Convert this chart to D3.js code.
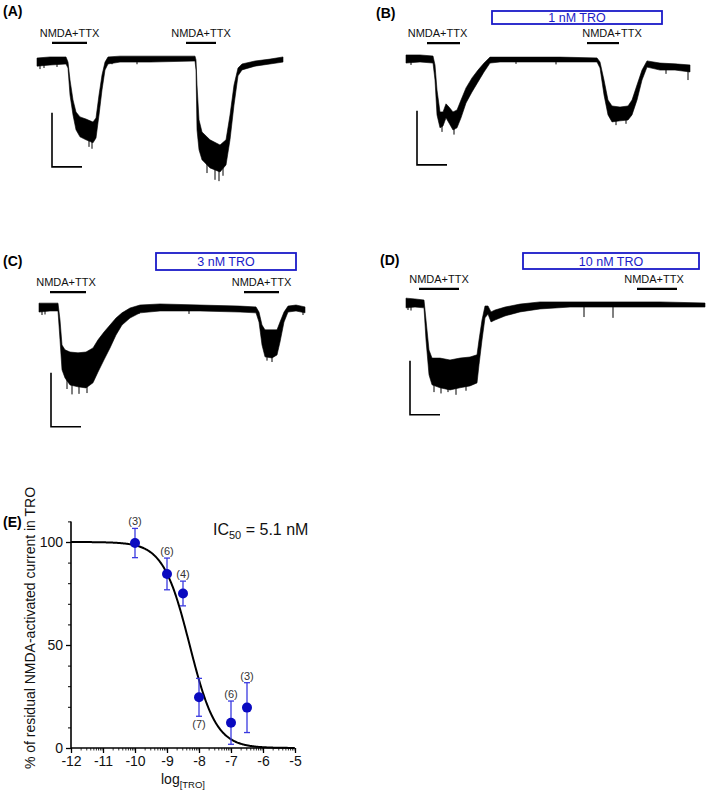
<!DOCTYPE html>
<html><head><meta charset="utf-8">
<script src="https://cdn.jsdelivr.net/npm/d3@7"></script>
<style>
body{margin:0;background:#fff}
svg{display:block;font-family:"Liberation Sans",Arial,Helvetica,sans-serif}
</style>
</head><body>
<svg id="c" width="709" height="792"></svg>
<script>
// ---------------- DATA ----------------
// Current traces: [time (s), upper envelope (pA), lower envelope (pA)], relative to initial baseline
const traceA = [[0,11,-19],[26,15,-15],[58,15,-11],[62,-4,-26],[66,-70,-126],[72,-144,-200],[78,-189,-255],[86,-207,-281],[98,-215,-292],[112,-226,-303],[118,-211,-285],[124,-126,-200],[130,-52,-107],[136,-4,-33],[142,15,-11],[166,18,-4],[226,18,-4],[316,18,0],[318,4,-33],[320,-89,-255],[324,-218,-329],[330,-263,-366],[346,-292,-396],[366,-311,-411],[378,-292,-385],[386,-200,-292],[394,-89,-163],[402,-26,-55],[410,-11,-33],[436,0,-19],[466,7,-11],[492,15,-4]];
const traceB = [[0,15,-15],[28,15,-11],[54,11,-15],[58,-22,-78],[62,-115,-207],[68,-196,-255],[74,-196,-248],[80,-166,-218],[86,-178,-237],[94,-196,-263],[102,-189,-255],[110,-152,-218],[120,-107,-163],[132,-70,-122],[144,-41,-85],[156,-15,-48],[168,7,-15],[188,7,-11],[248,7,-11],[308,7,-11],[382,4,-11],[388,-11,-33],[396,-78,-133],[404,-152,-207],[412,-174,-233],[428,-178,-229],[444,-174,-226],[452,-152,-207],[462,-96,-152],[472,-41,-78],[482,-7,-30],[508,-15,-41],[538,-18,-41],[568,-22,-48]];
const traceC = [[0,18,-15],[22,18,-11],[38,18,-11],[42,-44,-118],[46,-137,-229],[52,-155,-259],[62,-163,-285],[78,-166,-292],[94,-163,-296],[108,-148,-277],[118,-118,-237],[130,-89,-192],[142,-63,-148],[154,-37,-100],[166,-18,-63],[182,0,-37],[202,11,-18],[242,15,-11],[322,11,-11],[402,7,-15],[434,4,-18],[440,-15,-52],[446,-63,-137],[452,-81,-181],[466,-81,-185],[476,-81,-174],[482,-52,-126],[490,-15,-52],[498,7,-15],[514,11,-11],[532,4,-18]];
const traceD = [[0,18,-18],[18,15,-15],[36,11,-18],[40,-63,-137],[46,-174,-266],[52,-204,-303],[68,-204,-314],[88,-211,-322],[108,-204,-314],[128,-200,-307],[142,-192,-296],[146,-137,-229],[152,-63,-137],[158,-11,-55],[164,-11,-41],[170,-33,-70],[178,-26,-63],[198,-15,-48],[228,-4,-33],[268,4,-22],[328,4,-15],[428,4,-15],[508,4,-15],[598,0,-15]];
// Brief downward noise spikes: [time (s), peak (pA)]
const spikesA = [[6,-30],[14,-26],[40,-22],[104,-318],[110,-325],[150,-12],[200,-12],[340,-415],[356,-440],[364,-445],[372,-425]];
const spikesB = [[10,-22],[72,-270],[96,-280],[220,-18],[300,-20],[420,-245],[440,-240],[520,-55],[564,-78]];
const spikesC = [[6,-26],[12,-24],[56,-300],[66,-320],[80,-318],[96,-315],[200,-22],[300,-22],[456,-195],[466,-200],[528,-26]];
const spikesD = [[4,-26],[10,-28],[56,-330],[70,-335],[84,-330],[100,-340],[120,-325],[356,-52],[414,-55]];

// Drug application bars (s)
const nmdaA = [[30,100],[298,358]];
const nmdaB = [[42,108],[362,426]];
const nmdaC = [[22,94],[410,480]];
const nmdaD = [[26,106],[462,542]];
const troB = [172,512], troC = [234,514], troD = [234,586];
const troLabels = ["1 nM TRO","3 nM TRO","10 nM TRO"];
const appLabel = "NMDA+TTX";
// Scale bars: 60 s, 200 pA (corner position in s / pA)
const scaleBarT = 60, scaleBarI = 200;
const sbA = [30,-392], sbB = [22,-392], sbC = [24,-440], sbD = [8,-414];

// Panel E: concentration-response
const logConc = [-10,-9,-8.5,-8,-7,-6.5];
const residual = [99.5,84.5,75,24.6,12.3,19.6];
const sem = [7.1,7.7,6,9.2,10.5,12.1];
const nCells = [3,6,4,7,6,3];
const nPos = ["above","above","above","below","above","above"];
const logIC50 = Math.log10(5.1e-9);
const hill = 1.05;
const xTicks = [-12,-11,-10,-9,-8,-7,-6,-5];
const yTicks = [0,50,100];

// ---------------- DRAW ----------------
const svg = d3.select("#c");
const blue = "#1a1ac8";

function panel(cfg){
  const g = svg.append("g");
  const x = d3.scaleLinear().domain([0,scaleBarT]).range([cfg.x0, cfg.x0+30]);
  const y = d3.scaleLinear().domain([0,-scaleBarI]).range([cfg.yb, cfg.yb+54]);
  svg.append("text").attr("x",cfg.lx).attr("y",cfg.ly).attr("font-size",14).attr("font-weight","bold").text(cfg.label);
  const area = d3.area().x(d=>x(d[0])).y0(d=>y(d[1])).y1(d=>y(d[2]));
  g.append("path").datum(cfg.trace).attr("d",area).attr("fill","#000").attr("stroke","#000").attr("stroke-width",0.6).attr("stroke-linejoin","round");
  const lookup = t => {
    const tr = cfg.trace; let i = d3.bisector(d=>d[0]).left(tr,t); i = Math.max(1,Math.min(tr.length-1,i));
    const a = tr[i-1], b = tr[i], f = (t-a[0])/(b[0]-a[0]||1);
    return (a[1]+a[2])/2*(1-f)+(b[1]+b[2])/2*f;
  };
  g.selectAll(".sp").data(cfg.spikes).enter().append("line")
    .attr("x1",d=>x(d[0])).attr("x2",d=>x(d[0]))
    .attr("y1",d=>y(lookup(d[0]))).attr("y2",d=>y(d[1]))
    .attr("stroke","#000").attr("stroke-width",1);
  g.selectAll(".bar").data(cfg.bars).enter().append("line")
    .attr("x1",d=>x(d[0])).attr("x2",d=>x(d[1]))
    .attr("y1",y(cfg.barLevel)).attr("y2",y(cfg.barLevel))
    .attr("stroke","#000").attr("stroke-width",2.2);
  g.selectAll(".bl").data(cfg.bars).enter().append("text")
    .attr("x",(d,i)=>x((d[0]+d[1])/2)+(cfg.labShift?cfg.labShift[i]:0)).attr("y",y(cfg.barLevel)-6)
    .attr("text-anchor","middle").attr("font-size",11).attr("fill","#111").text(appLabel);
  if(cfg.tro){
    g.append("rect").attr("x",x(cfg.tro[0])).attr("width",x(cfg.tro[1])-x(cfg.tro[0]))
      .attr("y",cfg.boxY[0]).attr("height",cfg.boxY[1]-cfg.boxY[0])
      .attr("fill","none").attr("stroke",blue).attr("stroke-width",1.8);
    g.append("text").attr("x",x((cfg.tro[0]+cfg.tro[1])/2)).attr("y",(cfg.boxY[0]+cfg.boxY[1])/2+4.5)
      .attr("text-anchor","middle").attr("font-size",12.5).attr("fill",blue).text(cfg.troLabel);
  }
  const sb = cfg.sb;
  g.append("path").attr("d",`M${x(sb[0])},${y(sb[1]+scaleBarI)}V${y(sb[1])}H${x(sb[0]+scaleBarT)}`)
    .attr("fill","none").attr("stroke","#000").attr("stroke-width",1.6);
}

panel({label:"(A)",lx:3,ly:16,x0:37,yb:61,trace:traceA,spikes:spikesA,bars:nmdaA,barLevel:67,sb:sbA});
panel({label:"(B)",lx:376,ly:18,x0:406,yb:59,trace:traceB,spikes:spikesB,bars:nmdaB,barLevel:59,labShift:[-6,9],tro:troB,boxY:[11,24],troLabel:troLabels[0],sb:sbB});
panel({label:"(C)",lx:3,ly:266,x0:39,yb:308,trace:traceC,spikes:spikesC,bars:nmdaC,barLevel:59,labShift:[-2,0],tro:troC,boxY:[253,270],troLabel:troLabels[1],sb:sbC});
panel({label:"(D)",lx:380,ly:265,x0:406,yb:303,trace:traceD,spikes:spikesD,bars:nmdaD,barLevel:52,labShift:[0,-3],tro:troD,boxY:[253,269],troLabel:troLabels[2],sb:sbD});

// ----- Panel E -----
svg.append("text").attr("x",3).attr("y",527).attr("font-size",14).attr("font-weight","bold").text("(E)");
const xE = d3.scaleLinear().domain([-12,-5]).range([71,295]);
const yE = d3.scaleLinear().domain([0,100]).range([748,542]);
const gE = svg.append("g");

const yAx = gE.append("g").attr("transform","translate(71,0)")
  .call(d3.axisLeft(yE).tickValues(yTicks).tickSize(5).tickPadding(3).tickSizeOuter(0));
yAx.select(".domain").remove();
yAx.selectAll("text").attr("font-size",14).attr("font-family","Liberation Sans, Arial").attr("fill","#111");
yAx.selectAll("line").attr("stroke-width",1.3);
gE.append("g").attr("transform","translate(71,0)")
  .call(d3.axisLeft(yE).tickValues(d3.range(10,111,10).filter(v=>v%50)).tickSize(3).tickFormat(""))
  .call(a=>a.select(".domain").remove()).selectAll("line").attr("stroke-width",1);
gE.append("line").attr("x1",71).attr("x2",71).attr("y1",yE(110)).attr("y2",yE(0)).attr("stroke","#000").attr("stroke-width",1.6);

const xAx = gE.append("g").attr("transform","translate(0,748)")
  .call(d3.axisBottom(xE).tickValues(xTicks).tickSize(5).tickPadding(3).tickFormat(d=>d<0?"-"+Math.abs(d):d));
xAx.select(".domain").remove();
xAx.selectAll("text").attr("font-size",14).attr("font-family","Liberation Sans, Arial").attr("fill","#111");
xAx.selectAll("line").attr("stroke-width",1.3);
const minorX = [];
xTicks.slice(0,-1).forEach(t=>{for(let k=2;k<=9;k++) minorX.push(t+Math.log10(k));});
gE.append("g").attr("transform","translate(0,748)")
  .call(d3.axisBottom(xE).tickValues(minorX).tickSize(2.5).tickFormat(""))
  .call(a=>a.select(".domain").remove()).selectAll("line").attr("stroke-width",0.8);
gE.append("line").attr("x1",71).attr("x2",295).attr("y1",748).attr("y2",748).attr("stroke","#000").attr("stroke-width",1.6);

const xt = gE.append("text").attr("x",183).attr("y",784).attr("text-anchor","middle").attr("font-size",14).attr("fill","#111");
xt.append("tspan").text("log");
xt.append("tspan").attr("font-size",9.5).attr("dy",4).text("[TRO]");
gE.append("text").attr("transform","translate(35,628) rotate(-90)").attr("text-anchor","middle")
  .attr("font-size",14).attr("fill","#111").text("% of residual NMDA-activated current in TRO");

const fitX = d3.range(-12,-5.0001,0.02);
const fit = fitX.map(v=>[v,100/(1+Math.pow(10,(v-logIC50)*hill))]);
gE.append("path").datum(fit).attr("d",d3.line().x(d=>xE(d[0])).y(d=>yE(d[1])))
  .attr("fill","none").attr("stroke","#000").attr("stroke-width",2);

const pts = logConc.map((v,i)=>({x:v,y:residual[i],e:sem[i],n:nCells[i],p:nPos[i]}));
const eb = gE.selectAll(".eb").data(pts).enter().append("g").attr("stroke","#3a3ae0").attr("stroke-width",1.3);
eb.append("line").attr("x1",d=>xE(d.x)).attr("x2",d=>xE(d.x)).attr("y1",d=>yE(d.y+d.e)).attr("y2",d=>yE(d.y-d.e));
eb.append("line").attr("x1",d=>xE(d.x)-3).attr("x2",d=>xE(d.x)+3).attr("y1",d=>yE(d.y+d.e)).attr("y2",d=>yE(d.y+d.e));
eb.append("line").attr("x1",d=>xE(d.x)-3).attr("x2",d=>xE(d.x)+3).attr("y1",d=>yE(d.y-d.e)).attr("y2",d=>yE(d.y-d.e));
gE.selectAll(".pt").data(pts).enter().append("circle")
  .attr("cx",d=>xE(d.x)).attr("cy",d=>yE(d.y)).attr("r",5).attr("fill","#0a0ac0");
gE.selectAll(".nl").data(pts).enter().append("text")
  .attr("x",d=>xE(d.x)).attr("y",d=>d.p==="above"?yE(d.y+d.e)-3:yE(d.y-d.e)+12)
  .attr("text-anchor","middle").attr("font-size",11).attr("fill","#333").text(d=>`(${d.n})`);

const ic = gE.append("text").attr("x",213).attr("y",535).attr("font-size",16).attr("fill","#111");
ic.append("tspan").text("IC");
ic.append("tspan").attr("font-size",11).attr("dy",4).text("50");
ic.append("tspan").attr("dy",-4).text(" = 5.1 nM");
</script>
</body></html>
